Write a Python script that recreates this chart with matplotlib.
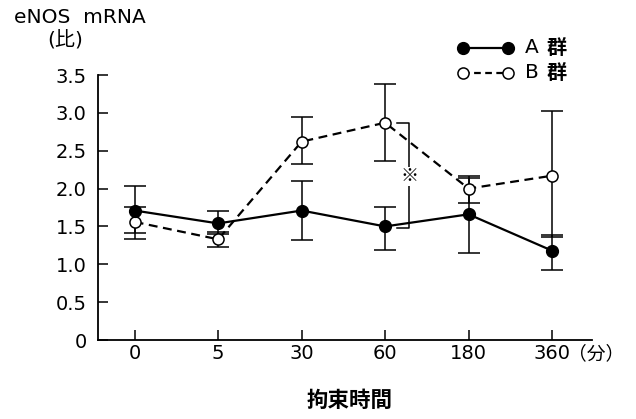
import matplotlib.pyplot as plt
import numpy as np

plt.rcParams['font.family'] = ['DejaVu Sans', 'Noto Sans CJK JP']

# Data
times = ['0', '5', '30', '60', '180', '360']
a_mean = [1.71, 1.54, 1.71, 1.50, 1.66, 1.18]
a_high = [2.03, 1.70, 2.10, 1.76, 2.14, 1.39]
a_low = [1.41, 1.40, 1.32, 1.19, 1.15, 0.93]
b_mean = [1.56, 1.33, 2.62, 2.87, 2.00, 2.17]
b_high = [1.76, 1.42, 2.95, 3.38, 2.17, 3.02]
b_low = [1.33, 1.23, 2.32, 2.36, 1.81, 1.36]

x = np.arange(len(times))

fig = plt.figure(figsize=(6.36, 4.19), dpi=100)
ax = fig.add_axes([0.154, 0.1885, 0.777, 0.6325])

def yerr(mean, low, high):
    mean = np.array(mean)
    return [mean - np.array(low), np.array(high) - mean]

ax.errorbar(x, b_mean, yerr=yerr(b_mean, b_low, b_high), fmt='none',
            ecolor='black', elinewidth=1.1, capsize=8, capthick=1.1, zorder=2)
ax.errorbar(x, a_mean, yerr=yerr(a_mean, a_low, a_high), fmt='none',
            ecolor='black', elinewidth=1.1, capsize=8, capthick=1.1, zorder=2)

ax.plot(x, b_mean, color='black', lw=1.6, ls=(0, (4, 2.5)), marker='o',
        ms=8, mfc='white', mec='black', mew=1.1, zorder=3)
ax.plot(x, a_mean, color='black', lw=1.6, ls='-', marker='o',
        ms=8.5, mfc='black', mec='black', zorder=4)

# significance bracket at 60 min
bx0, bx1 = 3.14, 3.29
ax.plot([bx0, bx1, bx1, bx0], [b_mean[3], b_mean[3], 1.48, 1.48],
        color='black', lw=1.1, zorder=2)
ax.text(bx1, 2.16, '※', ha='center', va='center', fontsize=13,
        family=['Noto Sans CJK JP'],
        bbox=dict(facecolor='white', edgecolor='none', pad=0.3), zorder=5)

ax.set_xlim(-0.44, 5.48)
ax.set_ylim(0, 3.5)
ax.set_xticks(x)
ax.set_xticklabels(times)
ax.set_yticks([0, 0.5, 1.0, 1.5, 2.0, 2.5, 3.0, 3.5])
ax.set_yticklabels(['0', '0.5', '1.0', '1.5', '2.0', '2.5', '3.0', '3.5'])
ax.tick_params(direction='in', length=7, width=1.1, labelsize=14)
ax.tick_params(axis='x', pad=3)
ax.tick_params(axis='y', pad=8)
for s in ['top', 'right']:
    ax.spines[s].set_visible(False)
for s in ['left', 'bottom']:
    ax.spines[s].set_linewidth(1.3)

# legend drawn by hand, above the plot area
ax.plot([3.93, 4.47], [3.86, 3.86], color='black', lw=1.6, marker='o',
        ms=8.5, mfc='black', clip_on=False)
ax.plot([3.93, 4.47], [3.53, 3.53], color='black', lw=1.6, ls=(0, (3, 2)),
        marker='o', ms=8, mfc='white', mew=1.1, clip_on=False)
for yy, name in [(3.86, 'A'), (3.53, 'B')]:
    ax.text(4.67, yy, name, va='center', fontsize=14.5)
    ax.text(4.93, yy, '群', va='center', fontsize=14.5, fontweight='bold',
            family=['Noto Sans CJK JP'])

fig.text(0.022, 0.958, 'eNOS  mRNA', fontsize=14.5, va='center')
fig.text(0.075, 0.903, '(比)', fontsize=14.5, va='center')
fig.text(0.893, 0.156, '（分）', fontsize=13.5, va='center',
         family=['Noto Sans CJK JP'])
fig.text(0.549, 0.045, '拘束時間', fontsize=15.5, ha='center', va='center',
         fontweight='bold', family=['Noto Sans CJK JP'])

fig.savefig('out.png', dpi=100)
